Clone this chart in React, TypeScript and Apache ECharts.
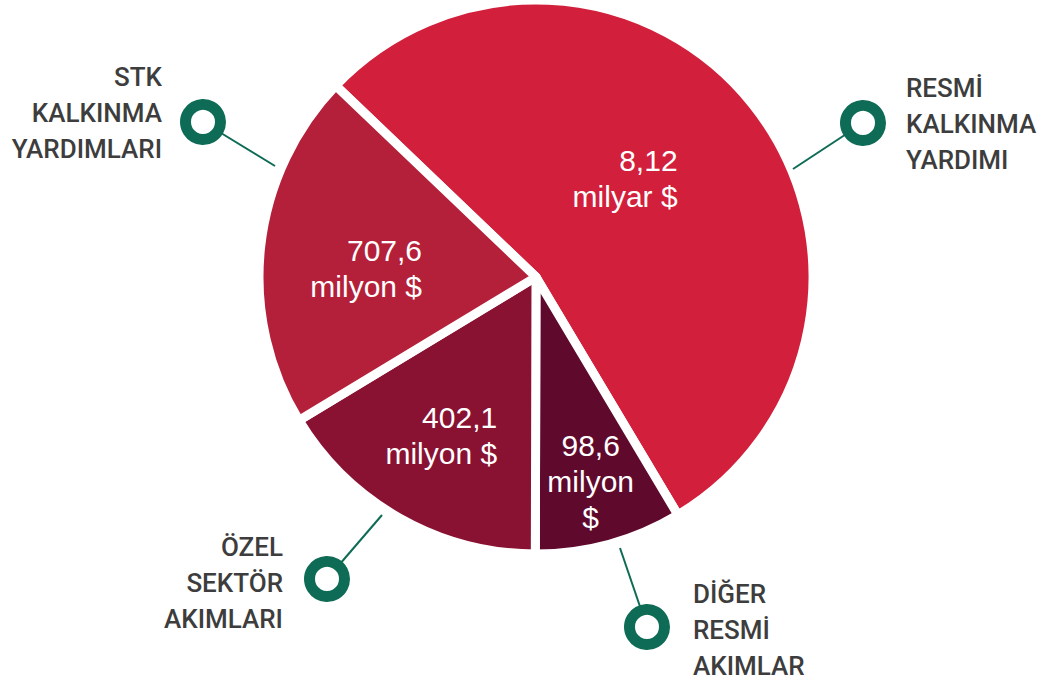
import React, { useEffect, useRef } from "react";
import * as echarts from "echarts";

// ---- data ----
const categoryLines: string[][] = [
  ["RESMİ", "KALKINMA", "YARDIMI"],
  ["DİĞER", "RESMİ", "AKIMLAR"],
  ["ÖZEL", "SEKTÖR", "AKIMLARI"],
  ["STK", "KALKINMA", "YARDIMLARI"],
];
// share of the circle each slice takes in the picture (percent)
const sliceShares: number[] = [54.3, 8.6, 16.3, 20.8];
const amountLabels: string[] = [
  "8,12\nmilyar $",
  "98,6\nmilyon\n$",
  "402,1\nmilyon $",
  "707,6\nmilyon $",
];

// ---- styles / layout ----
const sliceColors = ["#D21F3B", "#5F0A2D", "#891233", "#B41F3A"];
const GREEN = "#0E6B55";
const TEXT = "#3D3D3D";
const CX = 536;
const CY = 277;
const R = 277;
const START = 136.3;

const innerPlacement = [
  { r: 133, dAngle: 9.4, align: "right" },
  { r: 212, dAngle: -0.4, align: "center" },
  { r: 185, dAngle: -1.3, align: "right" },
  { r: 170, dAngle: 3.5, align: "right" },
];

const callouts = [
  { ring: [863, 123], from: [793, 169], tx: 906, ty: 123.5, align: "left" },
  { ring: [647, 627], from: [620, 548], tx: 693, ty: 630, align: "left" },
  { ring: [327, 579], from: [382, 515], tx: 283, ty: 583, align: "right" },
  { ring: [203, 122], from: [275, 166], tx: 162, ty: 113, align: "right" },
];

export default function App() {
  const ref = useRef<HTMLDivElement>(null);

  useEffect(() => {
    if (!ref.current) return;
    const chart = echarts.init(ref.current, undefined, { renderer: "svg" });

    const total = sliceShares.reduce((a, b) => a + b, 0);
    const mids: number[] = [];
    let cum = 0;
    sliceShares.forEach((v) => {
      mids.push(START - (360 * (cum + v / 2)) / total);
      cum += v;
    });

    const graphics: any[] = [];
    callouts.forEach((c, i) => {
      graphics.push({
        type: "line",
        z: 10,
        shape: { x1: c.from[0], y1: c.from[1], x2: c.ring[0], y2: c.ring[1] },
        style: { stroke: GREEN, lineWidth: 2 },
        silent: true,
      });
      graphics.push({
        type: "circle",
        z: 11,
        shape: { cx: c.ring[0], cy: c.ring[1], r: 17.5 },
        style: { fill: "#ffffff", stroke: GREEN, lineWidth: 11 },
        silent: true,
      });
      graphics.push({
        type: "text",
        z: 11,
        x: c.tx,
        y: c.ty,
        style: {
          text: categoryLines[i].join("\n"),
          fill: TEXT,
          fontSize: 26,
          fontWeight: 500,
          fontFamily: "Roboto, 'Noto Sans', sans-serif",
          lineHeight: 36,
          align: c.align,
          verticalAlign: "middle",
        },
        silent: true,
      });
    });

    chart.setOption({
      animation: false,
      backgroundColor: "#ffffff",
      graphic: graphics,
      series: [
        {
          type: "pie",
          center: [CX, CY],
          radius: [0, R],
          startAngle: START,
          clockwise: true,
          avoidLabelOverlap: false,
          silent: true,
          itemStyle: { borderColor: "#ffffff", borderWidth: 9 },
          label: {
            show: true,
            position: "inside",
            color: "#ffffff",
            fontSize: 30,
            fontFamily: "'Liberation Sans', Arial, sans-serif",
            lineHeight: 36,
            formatter: (p: any) => amountLabels[p.dataIndex],
          },
          labelLine: { show: false },
          labelLayout: (params: any) => {
            const i = params.dataIndex;
            const pl = innerPlacement[i];
            const a = ((mids[i] + pl.dAngle) * Math.PI) / 180;
            const bx = CX + pl.r * Math.cos(a);
            const by = CY - pl.r * Math.sin(a);
            const w = params.labelRect ? params.labelRect.width : 0;
            return {
              x: pl.align === "right" ? bx + w / 2 : bx,
              y: by,
              align: pl.align,
              verticalAlign: "middle",
            };
          },
          data: sliceShares.map((v, i) => ({
            value: v,
            name: categoryLines[i].join(" "),
            itemStyle: { color: sliceColors[i] },
          })),
        },
      ],
    });

    return () => chart.dispose();
  }, []);

  return (
    <div
      ref={ref}
      style={{ position: "fixed", left: 0, top: 0, width: 1039, height: 682, background: "#fff" }}
    />
  );
}
